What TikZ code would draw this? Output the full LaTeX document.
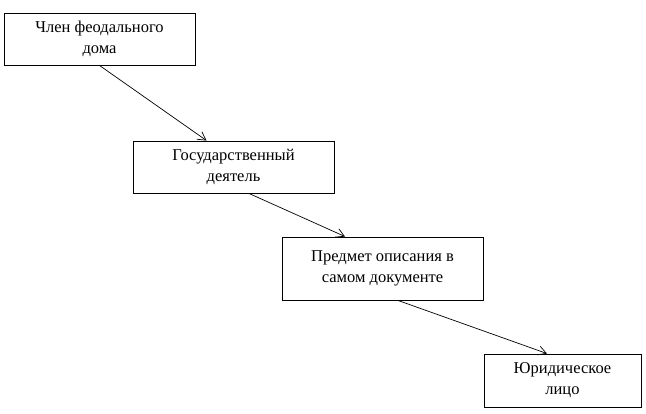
\documentclass[tikz,border=0pt]{standalone}
\usepackage{fontspec}
\setmainfont{Liberation Serif}
\usetikzlibrary{arrows.meta}
\begin{document}
\begin{tikzpicture}[x=1pt,y=-1pt,
  box/.style={draw,line width=0.9pt,inner sep=0pt,align=center,
    font=\fontsize{16.5}{21}\selectfont},
  link/.style={line width=0.7pt,-{Straight Barb[length=8pt,width=9pt]}}]
\useasboundingbox (0,0) rectangle (646,413);
\node[box,minimum width=191pt,minimum height=52pt] (b1) at (99.5,39) {Член феодального\\дома};
\node[box,minimum width=201pt,minimum height=52pt] (b2) at (233.5,167) {Государственный\\деятель};
\node[box,minimum width=201pt,minimum height=63pt] (b3) at (382.5,268.5) {Предмет описания в\\самом документе};
\node[box,minimum width=157pt,minimum height=53pt] (b4) at (562.5,380.5) {Юридическое\\лицо};
\draw[link] (b1.south) -- ([xshift=-27pt]b2.north);
\draw[link] ([xshift=15.5pt]b2.south) -- ([xshift=-37.5pt]b3.north);
\draw[link] ([xshift=15.5pt]b3.south) -- ([xshift=-15.5pt]b4.north);
\end{tikzpicture}
\end{document}
